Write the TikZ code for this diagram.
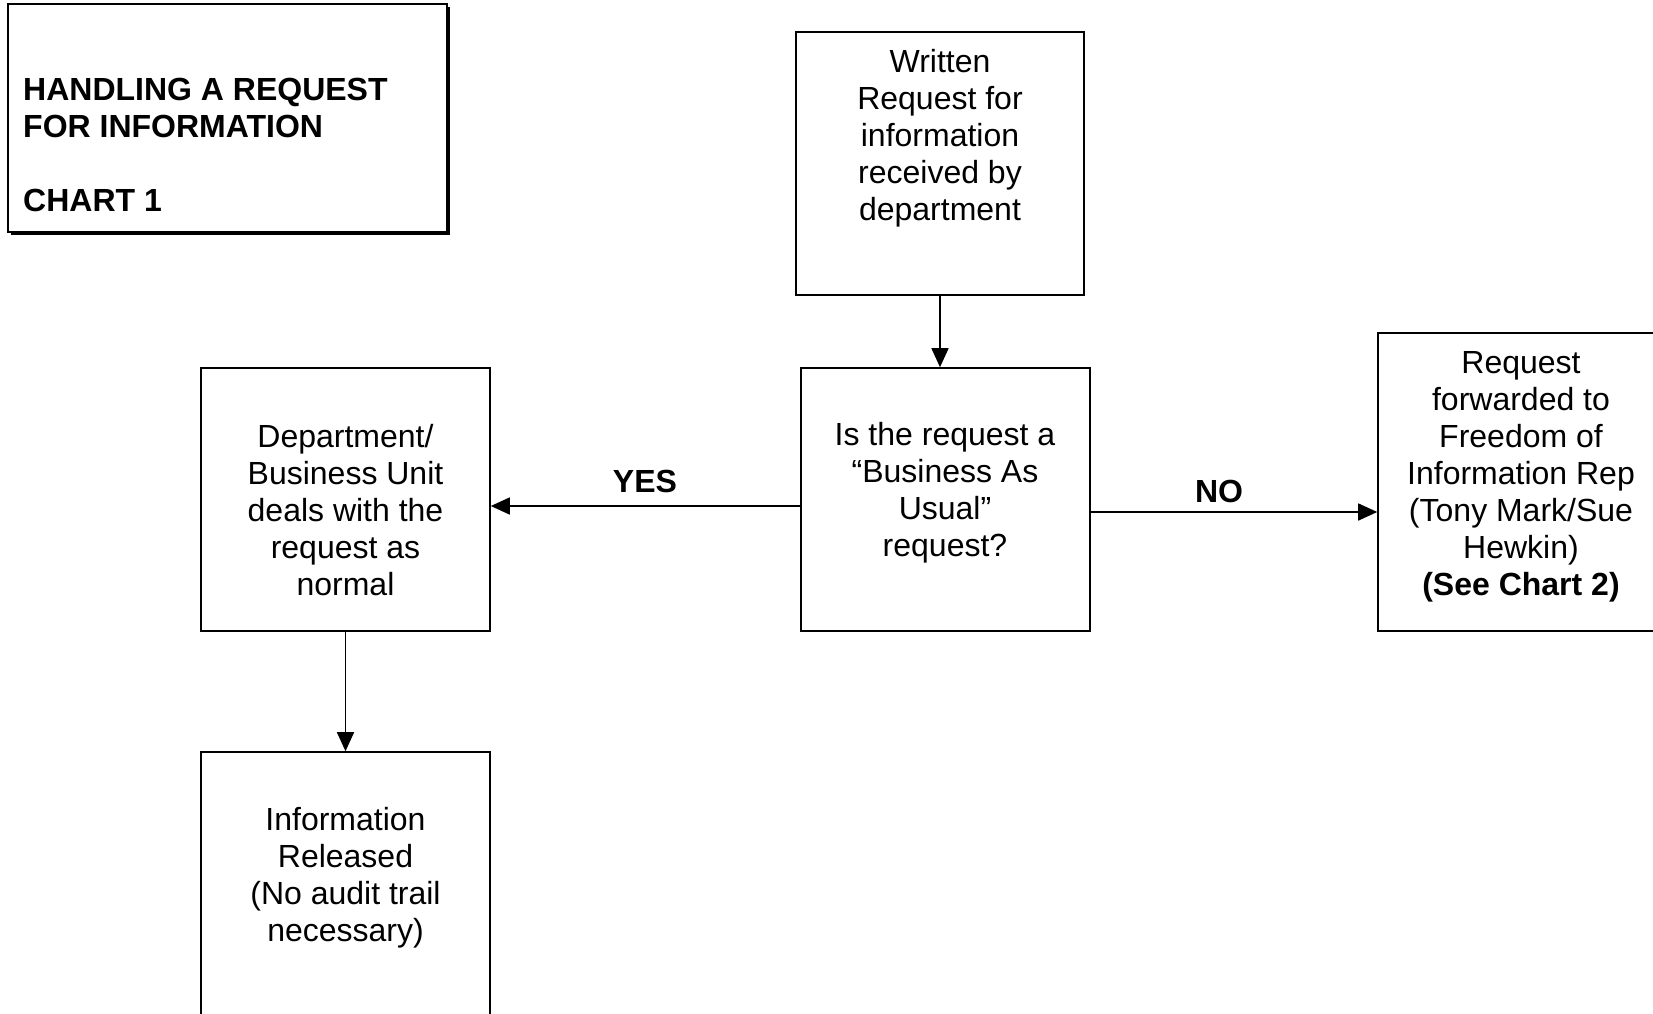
\documentclass[tikz,border=0pt]{standalone}
\usepackage{fontspec}
\setmainfont{Liberation Sans}
\usetikzlibrary{arrows.meta}
\begin{document}
\begin{tikzpicture}[x=1pt,y=-1pt,
  box/.style={draw, line width=1.6pt, rectangle, inner sep=0pt},
  txt/.style={inner sep=0pt, align=center, font=\fontsize{32}{37}\selectfont},
  lbl/.style={inner sep=0pt, font=\fontsize{32}{37}\selectfont\bfseries},
  arr/.style={line width=1.6pt, -{Triangle[length=19pt,width=17pt]}}]
\useasboundingbox (0,0) rectangle (1653,1013);
\clip (0,0) rectangle (1653,1013);
% title box with shadow
\fill[black] (11,7) rectangle (450,235);
\node[box, fill=white, line width=2.2pt, minimum width=439pt, minimum height=228pt] (title) at (227.5,118) {};
\node[inner sep=0pt, align=left, anchor=west, font=\fontsize{32}{37}\selectfont\bfseries] (titlet) at (23,145)
  {HANDLING A REQUEST\\FOR INFORMATION\\[37pt]CHART 1};
% boxes
\node[box, minimum width=288pt, minimum height=263pt] (w) at (940,163.5) {};
\node[box, minimum width=289pt, minimum height=263pt] (q) at (945.5,499.5) {};
\node[box, minimum width=289pt, minimum height=263pt] (d) at (345.5,499.5) {};
\node[box, minimum width=286pt, minimum height=298pt] (r) at (1521,482) {};
\node[box, minimum width=289pt, minimum height=263pt] (i) at (345.5,883.5) {};
% texts
\node[txt] (wt) at (940,138) {Written\\Request for\\information\\received by\\department};
\node[txt] (qt) at (945,492.5) {Is the request a\\``Business As\\Usual''\\request?};
\node[txt] (dt) at (345.5,510) {Department/\\Business Unit\\deals with the\\request as\\normal};
\node[txt] (rt) at (1521,477) {Request\\forwarded to\\Freedom of\\Information Rep\\(Tony Mark/Sue\\Hewkin)\\\textbf{(See Chart 2)}};
\node[txt] (it) at (345.5,877.5) {Information\\Released\\(No audit trail\\necessary)};
% connectors
\draw[arr] (w.south) -- (w.south |- q.north);
\draw[arr] ([yshift=-6.5pt]q.west) -- ([yshift=-6.5pt]d.east);
\draw[arr] ([yshift=-12.5pt]q.east) -- ([yshift=-30pt]r.west);
\draw[arr] (d.south) -- (i.north);
% labels
\node[lbl] (yes) at (645,481) {YES};
\node[lbl] (no) at (1219,491) {NO};
\end{tikzpicture}
\end{document}
